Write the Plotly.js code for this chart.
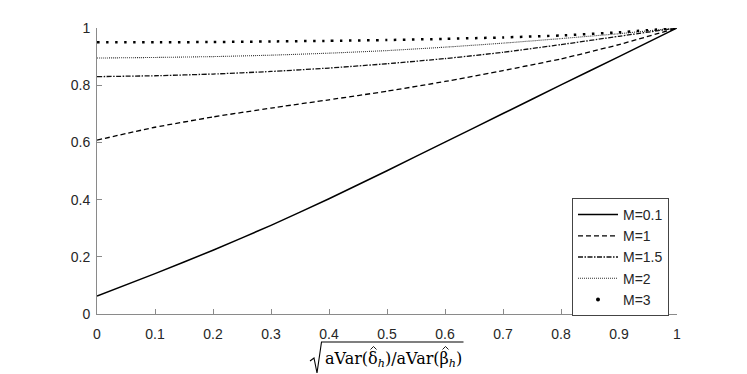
<!DOCTYPE html>
<html>
<head>
<meta charset="utf-8">
<script src="https://cdn.plot.ly/plotly-3.0.1.min.js"></script>
<style>html,body{margin:0;padding:0;background:#fff}#chart{width:747px;height:374px}</style>
</head>
<body>
<div id="chart"></div>
<script>
// ---- data ----
const xVals = [0, 0.1, 0.2, 0.3, 0.4, 0.5, 0.6, 0.7, 0.8, 0.9, 1.0];
const yM01  = [0.063, 0.141, 0.223, 0.310, 0.403, 0.501, 0.601, 0.701, 0.801, 0.900, 1.0];
const yM1   = [0.608, 0.653, 0.689, 0.720, 0.749, 0.779, 0.813, 0.851, 0.892, 0.942, 1.0];
const yM15  = [0.830, 0.833, 0.839, 0.848, 0.860, 0.875, 0.893, 0.915, 0.942, 0.971, 1.0];
const yM2   = [0.895, 0.897, 0.900, 0.905, 0.912, 0.921, 0.933, 0.947, 0.963, 0.980, 1.0];
const yM3   = [0.950, 0.950, 0.951, 0.953, 0.955, 0.958, 0.962, 0.967, 0.974, 0.985, 1.0];
const seriesNames = ['M=0.1', 'M=1', 'M=1.5', 'M=2', 'M=3'];
const xTicks = [0, 0.1, 0.2, 0.3, 0.4, 0.5, 0.6, 0.7, 0.8, 0.9, 1];
const xTickText = ['0', '0.1', '0.2', '0.3', '0.4', '0.5', '0.6', '0.7', '0.8', '0.9', '1'];
const yTicks = [0, 0.2, 0.4, 0.6, 0.8, 1];
const yTickText = ['0', '0.2', '0.4', '0.6', '0.8', '1'];

// ---- layout geometry ----
const W = 747, H = 374;
const M = {l: 97, r: 70, t: 28, b: 60};
const PW = W - M.l - M.r, PH = H - M.t - M.b;
const px = v => (v - M.l) / PW;          // pixel x -> paper x
const py = v => (M.t + PH - v) / PH;     // pixel y -> paper y
const pathOf = pts => pts.map((p, i) => (i ? 'L' : 'M') + px(p[0]) + ',' + py(p[1])).join(' ');

const axisGray = '#8a8a8a';
const textCol = '#262626';
const tickFont = {family: 'Liberation Sans, Arial, Helvetica, sans-serif', size: 14, color: textCol};

const sm = {shape: 'spline', smoothing: 0.4};
const traces = [
  {x: xVals, y: yM01, name: seriesNames[0], mode: 'lines',
   line: Object.assign({color: '#000', width: 1.5, dash: 'solid'}, sm)},
  {x: xVals, y: yM1, name: seriesNames[1], mode: 'lines',
   line: Object.assign({color: '#000', width: 1.3, dash: '5px,3px'}, sm)},
  {x: xVals, y: yM15, name: seriesNames[2], mode: 'lines',
   line: Object.assign({color: '#111', width: 1.3, dash: '5px,1.5px,1.5px,1.5px'}, sm)},
  {x: xVals, y: yM2, name: seriesNames[3], mode: 'lines',
   line: Object.assign({color: '#333', width: 1.1, dash: '1px,1px'}, sm)},
  {x: xVals, y: yM3, name: seriesNames[4], mode: 'lines', showlegend: false, legendgroup: 'm3',
   line: Object.assign({color: '#000', width: 2.5, dash: '2.5px,6.5px'}, sm)},
  {x: [null], y: [null], name: seriesNames[4], mode: 'markers', legendgroup: 'm3',
   marker: {color: '#000', size: 4}}
];

const ax = {
  showgrid: false, zeroline: false, showline: true, linecolor: axisGray, linewidth: 1,
  ticks: 'inside', ticklen: 5, tickwidth: 1, tickcolor: axisGray,
  tickfont: tickFont, mirror: false, fixedrange: true
};

const layout = {
  width: W, height: H, margin: M,
  paper_bgcolor: '#fff', plot_bgcolor: '#fff',
  showlegend: true,
  xaxis: Object.assign({}, ax, {range: [0, 1], tickvals: xTicks, ticktext: xTickText, ticklabelstandoff: 7}),
  yaxis: Object.assign({}, ax, {range: [0, 1], tickvals: yTicks, ticktext: yTickText, ticklabelstandoff: 3}),
  legend: {
    x: px(572), y: py(198), xanchor: 'left', yanchor: 'top',
    bgcolor: '#fff', bordercolor: '#444', borderwidth: 1,
    font: {family: 'Liberation Sans, Arial, Helvetica, sans-serif', size: 14, color: textCol},
    itemwidth: 40, tracegroupgap: 0
  },
  shapes: [
    // radical sign with its overbar
    {type: 'path', xref: 'paper', yref: 'paper',
     path: pathOf([[310, 361], [314, 358], [317, 373], [321.5, 342], [463.5, 342]]),
     line: {color: '#000', width: 1.1}},
    // hats over delta and beta
    {type: 'path', xref: 'paper', yref: 'paper',
     path: pathOf([[370.5, 349.5], [373.5, 346.5], [376.5, 349.5]]),
     line: {color: '#000', width: 0.9}},
    {type: 'path', xref: 'paper', yref: 'paper',
     path: pathOf([[442.5, 349.5], [445.5, 346.5], [448.5, 349.5]]),
     line: {color: '#000', width: 0.9}}
  ],
  annotations: [{
    xref: 'paper', yref: 'paper', x: px(323), y: py(359), xanchor: 'left', yanchor: 'middle',
    showarrow: false,
    text: 'aVar(δ<sub><i>h</i></sub>)/aVar(β<sub><i>h</i></sub>)',
    font: {family: 'DejaVu Serif, Liberation Serif, serif', size: 16, color: '#000'}
  }]
};

Plotly.newPlot('chart', traces, layout, {staticPlot: true, displayModeBar: false});
</script>
</body>
</html>
